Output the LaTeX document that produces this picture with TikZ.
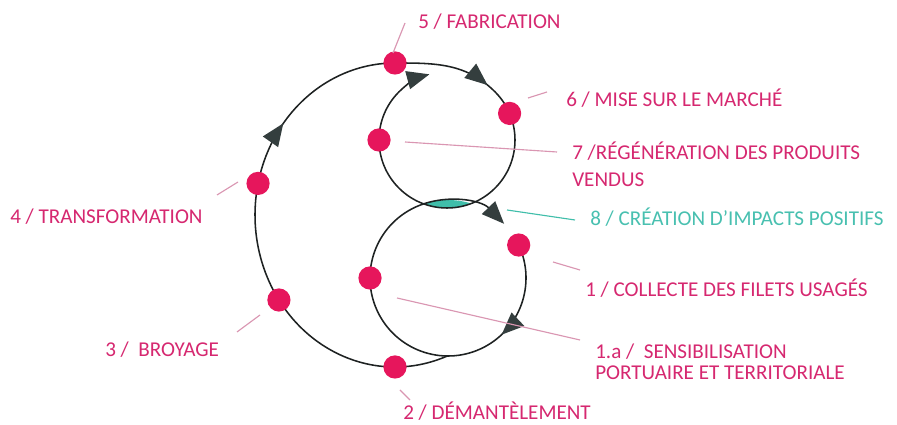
\documentclass[tikz,border=0pt]{standalone}
\usepackage{fontspec}
\setmainfont{Carlito}
\usetikzlibrary{arrows.meta,decorations.markings}
\definecolor{CycPink}{RGB}{230,22,92}
\definecolor{CycText}{RGB}{214,40,112}
\definecolor{CycTeal}{RGB}{64,190,170}
\definecolor{CycTealText}{RGB}{72,192,176}
\definecolor{CycDark}{RGB}{52,62,62}
\definecolor{CycLine}{RGB}{30,34,34}
\definecolor{CycLead}{RGB}{218,150,178}
\tikzset{
  cyc/line/.style={draw=CycLine, line width=1.1pt},
  cyc/dot/.style={circle, fill=CycPink, inner sep=0pt, minimum size=0.58cm},
  cyc/label/.style={anchor=base west, inner sep=0pt, align=left, text=CycText, font=\fontsize{15}{15.5}\selectfont},
  cyc/teallabel/.style={cyc/label, text=CycTealText},
  cyc/leader/.style={draw=CycLead, line width=0.8pt},
  cyc/tealleader/.style={draw=CycTeal, line width=0.8pt}
}

\begin{document}
\begin{tikzpicture}[x=0.025cm,y=0.025cm,>={Triangle[length=16pt,width=13pt,color=CycDark]}]
  \fill[white] (0,0) rectangle (897,425);
  \coordinate (ec) at (395,210);
  \coordinate (uc) at (447,285);
  \coordinate (lc) at (448,147);

  \begin{scope}
    \clip (uc) circle[radius=68];
    \fill[CycTeal] (lc) circle[radius=78];
  \end{scope}

  \draw[cyc/line, ->, postaction={decorate},
    decoration={markings, mark=at position 0.21 with {\arrow{>}}}]
    ([shift={(25:78)}]lc) arc[start angle=25, end angle=-316, radius=78];
  \draw[cyc/line, ->, postaction={decorate},
    decoration={markings, mark=at position 0.39 with {\arrow{>}}, mark=at position 0.625 with {\arrow{>}}}]
    ([shift={(292:140 and 152)}]ec) arc[start angle=292, end angle=90, x radius=140, y radius=152]
    to[out=0, in=135] ([shift={(45:68)}]uc) arc[start angle=45, end angle=-255, radius=68];

  \node[cyc/dot] (d1) at ([shift={(25:78)}]lc) {};
  \node[cyc/dot] (d1a) at ([shift={(180:78)}]lc) {};
  \node[cyc/dot] (d2) at ([shift={(270:140 and 152)}]ec) {};
  \node[cyc/dot] (d3) at ([shift={(214:140 and 152)}]ec) {};
  \node[cyc/dot] (d4) at ([shift={(168:140 and 152)}]ec) {};
  \node[cyc/dot] (d5) at ([shift={(90:140 and 152)}]ec) {};
  \node[cyc/dot] (d6) at ([shift={(23:68)}]uc) {};
  \node[cyc/dot] (d7) at ([shift={(180:68)}]uc) {};

  \node[cyc/label] (lab5) at (418,396) {5 / FABRICATION};
  \node[cyc/label] (lab6) at (566,318) {6 / MISE SUR LE MARCHÉ};
  \node[cyc/label] (lab7) at (572,238) {7 /RÉGÉNÉRATION DES PRODUITS\\[4pt]VENDUS};
  \node[cyc/teallabel] (lab8) at (590,199) {8 / CRÉATION D’IMPACTS POSITIFS};
  \node[cyc/label] (lab1) at (585,128) {1 / COLLECTE DES FILETS USAGÉS};
  \node[cyc/label] (lab1a) at (595,45) {1.a /\ \ SENSIBILISATION\\PORTUAIRE ET TERRITORIALE};
  \node[cyc/label] (lab2) at (403,5) {2 / DÉMANTÈLEMENT};
  \node[cyc/label] (lab3) at (105,68) {3 /\ \ BROYAGE};
  \node[cyc/label] (lab4) at (10,201) {4 / TRANSFORMATION};

  \coordinate (p5) at (393,372);  \coordinate (q5) at (405,402);
  \coordinate (p6) at (528,327);  \coordinate (q6) at (547,333);
  \coordinate (p7) at (405,283);  \coordinate (q7) at (557,273);
  \coordinate (p8) at (507,215);  \coordinate (q8) at (575,205);
  \coordinate (p1) at (553,163);  \coordinate (q1) at (580,155);
  \coordinate (p1a) at (397,127); \coordinate (q1a) at (580,85);
  \coordinate (p2) at (400,35);   \coordinate (q2) at (410,25);
  \coordinate (p3) at (260,110);  \coordinate (q3) at (237,93);
  \coordinate (p4) at (238,243);  \coordinate (q4) at (217,230);
  \draw[cyc/leader] (p5) -- (q5);
  \draw[cyc/leader] (p6) -- (q6);
  \draw[cyc/leader] (p7) -- (q7);
  \draw[cyc/tealleader] (p8) -- (q8);
  \draw[cyc/leader] (p1) -- (q1);
  \draw[cyc/leader] (p1a) -- (q1a);
  \draw[cyc/leader] (p2) -- (q2);
  \draw[cyc/leader] (p3) -- (q3);
  \draw[cyc/leader] (p4) -- (q4);
\end{tikzpicture}
\end{document}
